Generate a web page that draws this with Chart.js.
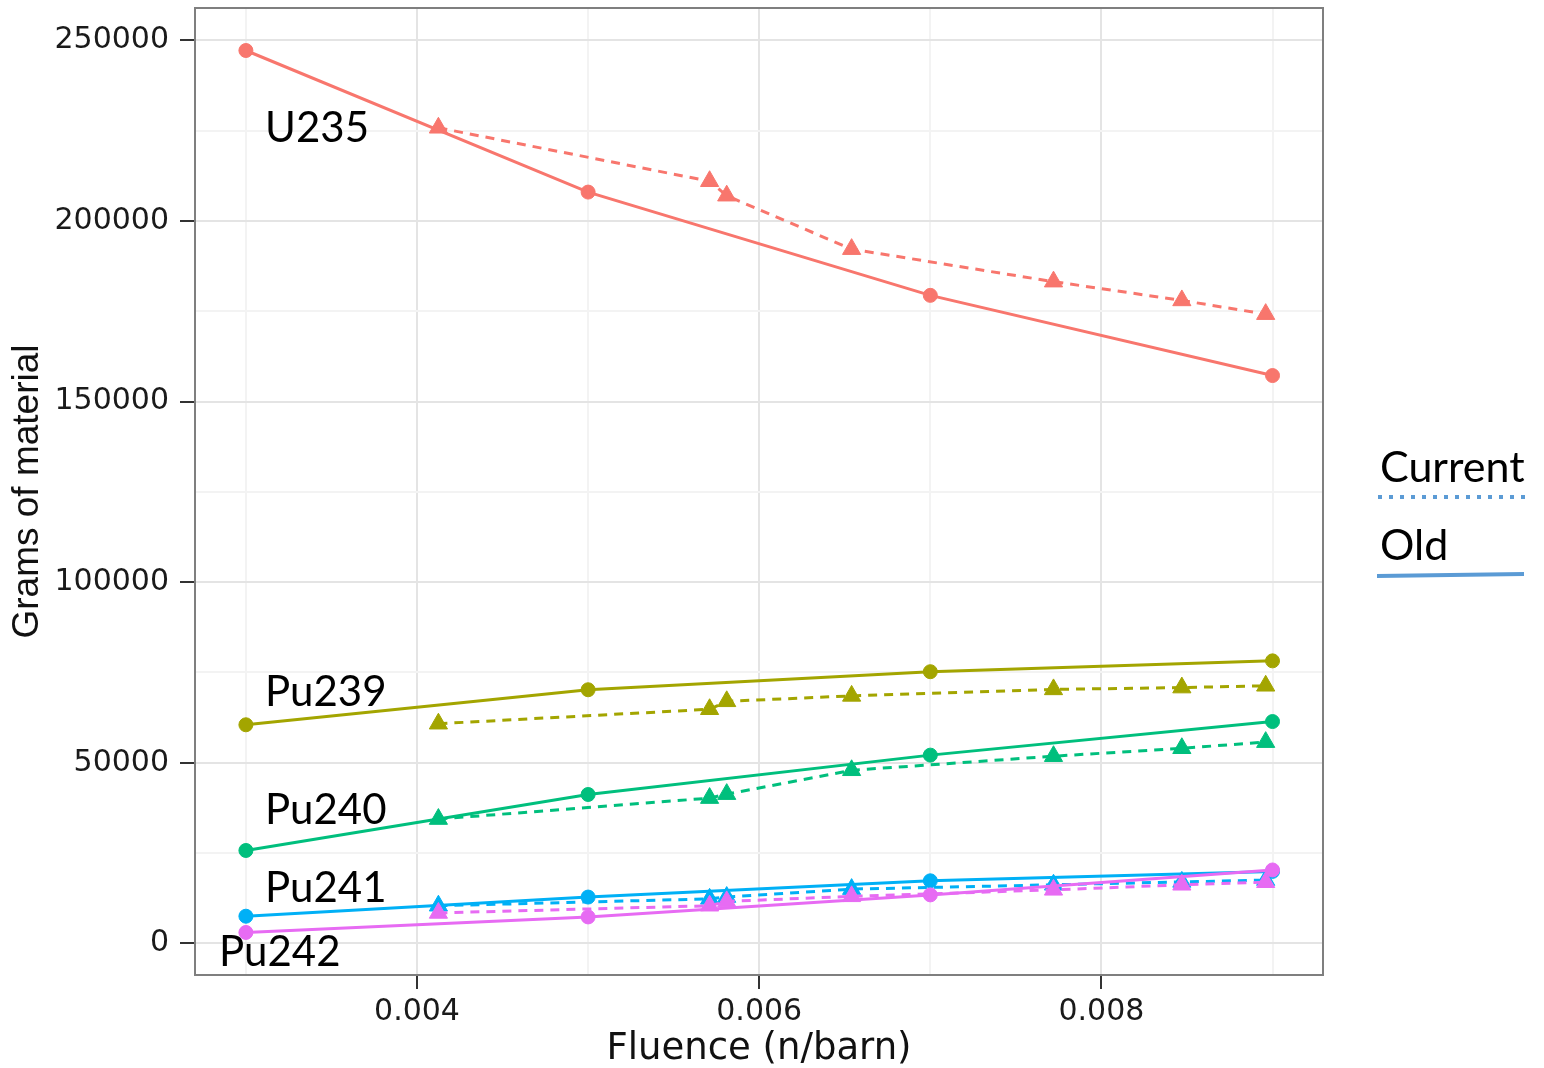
<!DOCTYPE html>
<html>
<head>
<meta charset="utf-8">
<title>Grams of material vs fluence</title>
<script src="https://cdn.jsdelivr.net/npm/chart.js@4/dist/chart.umd.min.js"></script>
<style>
  html, body { margin: 0; padding: 0; background: #ffffff; }
  #wrap { width: 1544px; height: 1068px; position: relative; }
</style>
</head>
<body>
<div id="wrap"><canvas id="chart" width="1544" height="1068"></canvas></div>
<script>
// ---- data -------------------------------------------------------------
const isotopes = ['U235', 'Pu239', 'Pu240', 'Pu241', 'Pu242'];

// fluence (n/barn) of the two calculation sets
const oldFluence     = [0.003, 0.005, 0.007, 0.009];
const currentFluence = [0.004125, 0.00571, 0.00581, 0.00654, 0.00772, 0.00847, 0.00896];

// grams of material, "Old" calculation
const oldU235  = [247200, 208000, 179400, 157200];
const oldPu239 = [60500, 70200, 75200, 78200];
const oldPu240 = [25700, 41200, 52100, 61400];
const oldPu241 = [7500, 12800, 17300, 19900];
const oldPu242 = [3000, 7300, 13400, 20300];

// grams of material, "Current" calculation
const currentU235  = [225800, 211000, 207000, 192200, 183200, 178000, 174200];
const currentPu239 = [60800, 64800, 67000, 68500, 70300, 70800, 71300];
const currentPu240 = [34400, 40200, 41300, 47900, 51800, 54000, 55700];
const currentPu241 = [10400, 12300, 12800, 15000, 16200, 17000, 17500];
const currentPu242 = [8400, 10400, 11600, 13000, 14800, 16200, 16900];

// axis ticks (every tick carries a grid line, labelled ones are major)
const xTickValues = [0.003, 0.004, 0.005, 0.006, 0.007, 0.008, 0.009];
const xTickLabels = ['', '0.004', '', '0.006', '', '0.008', ''];
const yTickValues = [0, 25000, 50000, 75000, 100000, 125000, 150000, 175000, 200000, 225000, 250000];
const yTickLabels = ['0', '', '50000', '', '100000', '', '150000', '', '200000', '', '250000'];

const legendLabels = ['Current', 'Old'];

// ---- styling ----------------------------------------------------------
const seriesColors = {
  U235: '#F8766D', Pu239: '#A3A500', Pu240: '#00BF7D', Pu241: '#00B0F6', Pu242: '#E76BF3'
};
const oldValues = { U235: oldU235, Pu239: oldPu239, Pu240: oldPu240, Pu241: oldPu241, Pu242: oldPu242 };
const currentValues = { U235: currentU235, Pu239: currentPu239, Pu240: currentPu240, Pu241: currentPu241, Pu242: currentPu242 };

// where each isotope name sits (data units: left edge, text baseline)
const nameAnchors = {
  U235:  { x: 0.003112, y: 221900 },
  Pu239: { x: 0.003112, y: 65700 },
  Pu240: { x: 0.003112, y: 33000 },
  Pu241: { x: 0.003112, y: 11400 },
  Pu242: { x: 0.002843, y: -6200 }
};

const pairs = (xs, ys) => xs.map((x, i) => ({ x: x, y: ys[i] }));

const datasets = [];
isotopes.forEach(name => {
  const c = seriesColors[name];
  datasets.push({
    label: name + ' Old',
    data: pairs(oldFluence, oldValues[name]),
    showLine: true,
    borderColor: c,
    backgroundColor: c,
    borderWidth: 3,
    pointStyle: 'circle',
    pointRadius: 7,
    pointBorderWidth: 1,
    pointBorderColor: c,
    pointBackgroundColor: c,
    tension: 0
  });
  datasets.push({
    label: name + ' Current',
    data: pairs(currentFluence, currentValues[name]),
    showLine: true,
    borderColor: c,
    backgroundColor: c,
    borderWidth: 3,
    borderDash: [9, 7],
    pointStyle: 'triangle',
    pointRadius: 10.5,
    pointBorderWidth: 1,
    pointBorderColor: c,
    pointBackgroundColor: c,
    tension: 0
  });
});
// later isotopes are painted on top
datasets.reverse();

// ---- plugins ----------------------------------------------------------
const panelFrame = {
  id: 'panelFrame',
  afterDatasetsDraw(chart) {
    const { ctx, chartArea: a } = chart;
    ctx.save();
    ctx.strokeStyle = '#7f7f7f';
    ctx.lineWidth = 2;
    ctx.strokeRect(a.left, a.top, a.right - a.left, a.bottom - a.top);
    ctx.restore();
  }
};

const isotopeNames = {
  id: 'isotopeNames',
  afterDatasetsDraw(chart) {
    const { ctx, scales } = chart;
    ctx.save();
    ctx.font = '42px Lato';
    ctx.fillStyle = '#000000';
    ctx.textAlign = 'left';
    ctx.textBaseline = 'alphabetic';
    isotopes.forEach(name => {
      const p = nameAnchors[name];
      ctx.fillText(name, scales.x.getPixelForValue(p.x), scales.y.getPixelForValue(p.y));
    });
    ctx.restore();
  }
};

const sideLegend = {
  id: 'sideLegend',
  afterDraw(chart) {
    const { ctx, chartArea: a } = chart;
    const left = a.right + 57;
    ctx.save();
    ctx.font = '43px Lato';
    ctx.fillStyle = '#000000';
    ctx.textAlign = 'left';
    ctx.textBaseline = 'alphabetic';
    ctx.fillText(legendLabels[0], left, 482);
    ctx.fillText(legendLabels[1], left, 560);

    ctx.strokeStyle = '#5B9BD5';
    ctx.lineWidth = 4;
    ctx.lineCap = 'butt';
    ctx.setLineDash([4, 7]);
    ctx.beginPath();
    ctx.moveTo(left - 2, 497);
    ctx.lineTo(left + 146, 497);
    ctx.stroke();

    ctx.setLineDash([]);
    ctx.beginPath();
    ctx.moveTo(left - 3, 576);
    ctx.lineTo(left + 144, 574);
    ctx.stroke();
    ctx.restore();
  }
};

// ---- chart ------------------------------------------------------------
const majorGrid = '#e4e4e4';
const minorGrid = '#f3f3f3';

const noEdgePadding = s => {
  s.paddingTop = 0; s.paddingBottom = 0; s.paddingLeft = 0; s.paddingRight = 0;
};

new Chart(document.getElementById('chart'), {
  type: 'scatter',
  data: { datasets: datasets },
  options: {
    responsive: false,
    animation: false,
    events: [],
    layout: { autoPadding: false, padding: { top: 8, right: 221, left: 0, bottom: 0 } },
    plugins: {
      legend: { display: false },
      tooltip: { enabled: false }
    },
    scales: {
      x: {
        type: 'linear',
        min: 0.0027025,
        max: 0.009295,
        afterBuildTicks: s => { s.ticks = xTickValues.map(v => ({ value: v })); },
        afterFit: s => { s.height = 93; noEdgePadding(s); },
        border: { display: false },
        grid: {
          color: ctx => (xTickLabels[ctx.index] ? majorGrid : minorGrid),
          lineWidth: 2,
          drawTicks: true,
          tickLength: 14,
          tickWidth: 2,
          tickColor: ctx => (xTickLabels[ctx.index] ? '#333333' : 'rgba(0,0,0,0)')
        },
        ticks: {
          autoSkip: false,
          maxRotation: 0,
          padding: 5,
          color: '#1a1a1a',
          font: { family: 'DejaVu Sans', size: 30 },
          callback: (v, i) => xTickLabels[i]
        },
        title: {
          display: true,
          text: 'Fluence (n/barn)',
          color: '#111111',
          font: { family: 'DejaVu Sans', size: 37 },
          padding: { top: 0, bottom: -4 }
        }
      },
      y: {
        type: 'linear',
        min: -8780,
        max: 258970,
        afterBuildTicks: s => { s.ticks = yTickValues.map(v => ({ value: v })); },
        afterFit: s => { s.width = 195; noEdgePadding(s); },
        border: { display: false },
        grid: {
          color: ctx => (yTickLabels[ctx.index] ? majorGrid : minorGrid),
          lineWidth: 2,
          drawTicks: true,
          tickLength: 15,
          tickWidth: 2,
          tickColor: ctx => (yTickLabels[ctx.index] ? '#333333' : 'rgba(0,0,0,0)')
        },
        ticks: {
          autoSkip: false,
          padding: 11,
          color: '#1a1a1a',
          font: { family: 'DejaVu Sans', size: 30 },
          callback: (v, i) => yTickLabels[i]
        },
        title: {
          display: true,
          text: 'Grams of material',
          color: '#111111',
          font: { family: 'Liberation Sans', size: 37 },
          padding: { top: 6, bottom: 0 }
        }
      }
    }
  },
  plugins: [panelFrame, isotopeNames, sideLegend]
});
</script>
</body>
</html>
